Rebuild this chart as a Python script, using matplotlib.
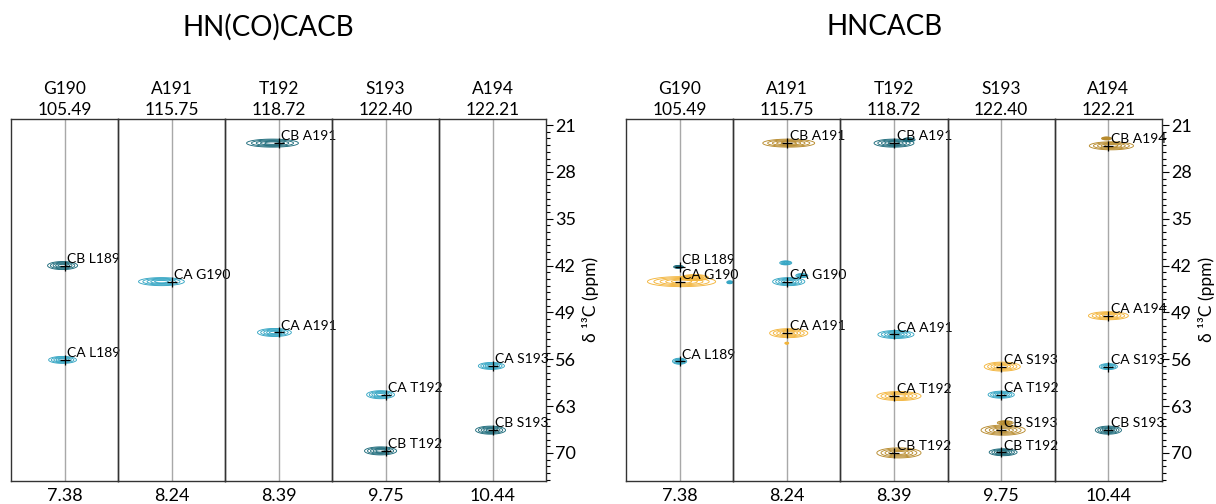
import matplotlib
matplotlib.use("Agg")
import matplotlib.pyplot as plt
import numpy as np
from matplotlib.ticker import MultipleLocator

plt.rcParams["font.family"] = ["Lato", "DejaVu Sans"]

# strip headers (same for both experiments)
residues = ["G190", "A191", "T192", "S193", "A194"]
n15_shifts = [105.49, 115.75, 118.72, 122.40, 122.21]
h1_shifts = [7.38, 8.24, 8.39, 9.75, 10.44]
titles = ["HN(CO)CACB", "HNCACB"]

c_ticks = [21, 28, 35, 42, 49, 56, 63, 70]
c_limits = (74.2, 20.05)
h_halfwidth = 0.25  # ppm shown either side of the strip centre

kind_colors = {
    "ca_prev": "#35a6c4",
    "cb_prev": "#1d6b7b",
    "ca_self": "#f3b53c",
    "cb_self": "#b78a2c",
}

# HN(CO)CACB peaks
hnco_strip = [0, 0, 1, 2, 2, 3, 3, 4, 4]
hnco_label = ["CB L189", "CA L189", "CA G190", "CB A191", "CA A191",
              "CA T192", "CB T192", "CA S193", "CB S193"]
hnco_kind = ["cb_prev", "ca_prev", "ca_prev", "cb_prev", "ca_prev",
             "ca_prev", "cb_prev", "ca_prev", "cb_prev"]
hnco_c = [42.0, 56.1, 44.4, 23.7, 52.0, 61.3, 69.7, 57.0, 66.6]
hnco_dh = [-0.009, -0.009, -0.047, -0.028, -0.019, -0.023, -0.023, -0.005, -0.009]
hnco_wh = [0.070, 0.065, 0.107, 0.121, 0.079, 0.065, 0.075, 0.061, 0.070]
hnco_wc = [0.60, 0.52, 0.60, 0.60, 0.60, 0.60, 0.60, 0.52, 0.60]

# HNCACB peaks (empty label = unassigned contour)
hnca_strip = [0, 0, 0, 0, 0,
              1, 1, 1, 1, 1, 1,
              2, 2, 2, 2, 2,
              3, 3, 3, 3, 3,
              4, 4, 4, 4, 4]
hnca_label = ["CB L189", "CA G190", "CA L189", "", "",
              "CB A191", "CA G190", "CA A191", "", "", "",
              "CB A191", "CA A191", "CA T192", "CB T192", "",
              "CA S193", "CA T192", "CB S193", "CB T192", "",
              "CB A194", "CA A194", "CA S193", "CB S193", ""]
hnca_kind = ["cb_prev", "ca_self", "ca_prev", "ca_self", "ca_prev",
             "cb_self", "ca_prev", "ca_self", "ca_prev", "ca_prev", "ca_self",
             "cb_prev", "ca_prev", "ca_self", "cb_self", "cb_prev",
             "ca_self", "ca_prev", "cb_self", "cb_prev", "cb_self",
             "cb_self", "ca_self", "ca_prev", "cb_prev", "cb_self"]
hnca_c = [42.2, 44.4, 56.3, 43.8, 44.5,
          23.7, 44.4, 52.1, 41.6, 43.5, 53.6,
          23.7, 52.3, 61.5, 70.0, 23.2,
          57.1, 61.3, 66.6, 69.9, 65.5,
          24.1, 49.5, 57.1, 66.6, 23.0]
hnca_dh = [-0.005, 0.009, 0.000, 0.070, 0.234,
           0.009, 0.009, 0.009, -0.005, 0.070, 0.000,
           0.000, 0.009, 0.023, 0.023, 0.070,
           0.005, 0.000, 0.009, 0.009, 0.019,
           0.014, 0.000, 0.000, 0.000, -0.009]
hnca_wh = [0.023, 0.159, 0.033, 0.065, 0.014,
           0.121, 0.075, 0.089, 0.028, 0.028, 0.009,
           0.093, 0.084, 0.103, 0.103, 0.028,
           0.084, 0.061, 0.103, 0.065, 0.037,
           0.103, 0.093, 0.042, 0.061, 0.023]
hnca_wc = [0.22, 0.75, 0.45, 0.45, 0.22,
           0.60, 0.60, 0.67, 0.30, 0.30, 0.15,
           0.60, 0.60, 0.67, 0.75, 0.30,
           0.67, 0.52, 0.75, 0.52, 0.30,
           0.60, 0.60, 0.45, 0.60, 0.22]

levels = [0.04, 0.12, 0.28, 0.5, 0.75]


def draw_peak(ax, h0, c0, dh, wh, wc, color):
    # outer contour reaches (wh, wc); gaussian lineshape
    u = np.sqrt(-2 * np.log(levels[0]))
    sh, sc = wh / u, wc / u
    x = np.linspace(h0 - h_halfwidth, h0 + h_halfwidth, 400)
    y = np.linspace(c0 - 2 * wc, c0 + 2 * wc, 160)
    X, Y = np.meshgrid(x, y)
    Z = np.exp(-0.5 * ((X - h0 - dh) / sh) ** 2 - 0.5 * ((Y - c0) / sc) ** 2)
    ax.contour(X, Y, Z, levels=levels, colors=color, linewidths=0.65)


def draw_panel(fig, x0, x1, title, strip, label, kind, cvals, dh, wh, wc):
    y0, y1 = 23 / 504, 385.3 / 504
    w = (x1 - x0) / 5
    axes = []
    for i in range(5):
        ax = fig.add_axes([x0 + i * w, y0, w, y1 - y0])
        ax.set_facecolor("none")
        h = h1_shifts[i]
        ax.set_xlim(h - h_halfwidth, h + h_halfwidth)
        ax.set_ylim(*c_limits)
        ax.axvline(h, color="#a8a8a8", lw=1.0, zorder=0)
        ax.set_xticks([h])
        ax.set_xticklabels([f"{h:.2f}"], fontsize=13)
        ax.tick_params(axis="x", length=0, pad=5)
        for s in ax.spines.values():
            s.set_color("#333333")
            s.set_linewidth(1.0)
        if i < 4:
            ax.set_yticks([])
        else:
            ax.yaxis.tick_right()
            ax.set_yticks(c_ticks)
            ax.yaxis.set_minor_locator(MultipleLocator(1))
            ax.tick_params(axis="y", which="major", length=5, width=0.8,
                           labelsize=13, pad=1.5)
            ax.tick_params(axis="y", which="minor", length=3, width=0.8)
            ax.yaxis.set_label_position("right")
            ax.set_ylabel("δ ¹³C (ppm)", fontsize=12.5, labelpad=4)
        ax.annotate(residues[i], xy=(0.5, 1), xycoords="axes fraction",
                    xytext=(0, 18), textcoords="offset points",
                    ha="center", va="baseline", fontsize=12.5)
        ax.annotate(f"{n15_shifts[i]:.2f}", xy=(0.5, 1), xycoords="axes fraction",
                    xytext=(0, 2.7), textcoords="offset points",
                    ha="center", va="baseline", fontsize=12.5)
        axes.append(ax)

    for k in range(len(strip)):
        ax = axes[strip[k]]
        h = h1_shifts[strip[k]]
        draw_peak(ax, h, cvals[k], dh[k], wh[k], wc[k], kind_colors[kind[k]])
        if label[k]:
            ax.plot(h, cvals[k], marker="+", color="black", ms=7, mew=0.9, zorder=5)
            t = ax.annotate(label[k], xy=(h, cvals[k]), xytext=(2, 0.5),
                            textcoords="offset points", ha="left", va="bottom",
                            fontsize=10, zorder=6, annotation_clip=False)
            t.set_clip_on(False)

    fig.text((x0 + x1) / 2 - 0.008, 1 - 27 / 504, title, ha="center",
             va="center", fontsize=20)


def main():
    fig = plt.figure(figsize=(12.16, 5.04), dpi=100)
    draw_panel(fig, 11 / 1216, 546 / 1216, titles[0], hnco_strip, hnco_label,
               hnco_kind, hnco_c, hnco_dh, hnco_wh, hnco_wc)
    draw_panel(fig, 626 / 1216, 1162 / 1216, titles[1], hnca_strip, hnca_label,
               hnca_kind, hnca_c, hnca_dh, hnca_wh, hnca_wc)
    fig.savefig("out.png", dpi=100)
    plt.close(fig)


if __name__ == "__main__":
    main()
